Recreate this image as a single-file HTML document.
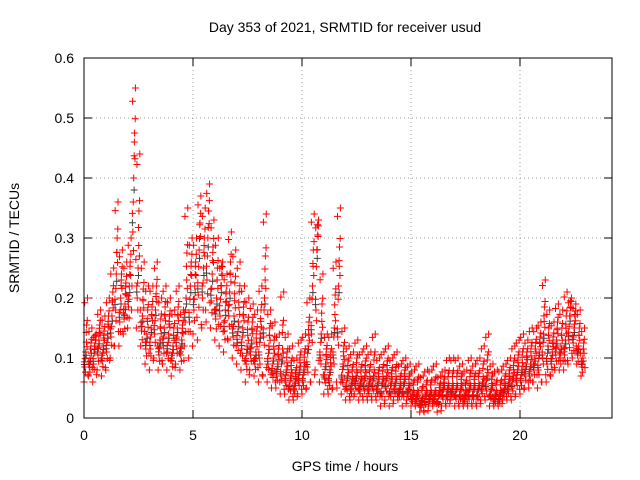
<!DOCTYPE html>
<html><head><meta charset="utf-8"><style>
body{margin:0;background:#fff}
svg{display:block;font-family:"Liberation Sans",sans-serif}
</style></head><body>
<svg id="chart" width="640" height="480" viewBox="0 0 640 480">
<rect width="640" height="480" fill="#fff"/>
<text x="345" y="32" font-size="14" text-anchor="middle">Day 353 of 2021, SRMTID for receiver usud</text>
<text x="0" y="0" font-size="14" text-anchor="middle" transform="translate(19,238) rotate(-90)">SRMTID / TECUs</text>
<text x="345" y="471" font-size="14" text-anchor="middle">GPS time / hours</text>
<g id="grid"></g>
<g id="ticks"></g>
<g id="gray"></g>
<g id="red"></g>
<rect x="84" y="58" width="528" height="360" fill="none" stroke="#000"/>
</svg>
<script>
const xTicks=[0,5,10,15,20];
const yTicks=[0,0.1,0.2,0.3,0.4,0.5,0.6];
const yTickLabels=["0","0.1","0.2","0.3","0.4","0.5","0.6"];
const binHours=0.2;
const lo=[.06,.07,.06,.08,.07,.08,.10,.12,.12,.14,.15,.22,.15,.12,.09,.08,.10,.08,.09,.08,.07,.09,.08,.12,.10,.14,.13,.15,.16,.15,.13,.12,.11,.13,.10,.09,.08,.06,.08,.07,.06,.07,.06,.05,.05,.04,.04,.03,.03,.04,.04,.05,.06,.08,.06,.04,.04,.05,.05,.04,.03,.03,.04,.03,.03,.03,.03,.03,.02,.03,.02,.03,.03,.02,.03,.02,.02,.01,.01,.02,.02,.01,.02,.02,.03,.02,.02,.02,.02,.02,.02,.03,.03,.02,.02,.02,.03,.03,.03,.04,.04,.05,.05,.06,.05,.06,.06,.07,.08,.08,.08,.09,.10,.09,.07];
const mid=[.11,.10,.12,.13,.12,.14,.17,.24,.20,.19,.22,.40,.25,.17,.14,.15,.18,.13,.15,.14,.12,.15,.13,.20,.22,.22,.28,.25,.30,.24,.20,.22,.18,.21,.17,.16,.15,.12,.13,.11,.14,.20,.12,.10,.09,.10,.08,.07,.06,.08,.08,.12,.22,.28,.14,.09,.08,.15,.22,.09,.07,.06,.07,.06,.07,.06,.07,.06,.06,.07,.06,.06,.05,.06,.05,.04,.04,.03,.04,.04,.04,.04,.05,.05,.05,.05,.05,.04,.05,.05,.05,.06,.07,.05,.04,.04,.05,.06,.07,.08,.08,.09,.09,.10,.11,.14,.12,.11,.13,.12,.13,.17,.15,.12,.10];
const hi=[.20,.15,.14,.18,.17,.20,.25,.36,.28,.26,.30,.55,.44,.26,.22,.22,.26,.20,.22,.20,.18,.22,.18,.35,.30,.30,.37,.35,.39,.33,.30,.26,.24,.31,.28,.26,.22,.20,.19,.18,.22,.34,.18,.16,.14,.21,.14,.12,.10,.13,.14,.20,.34,.33,.24,.14,.14,.26,.35,.15,.12,.11,.13,.11,.12,.11,.14,.10,.11,.12,.10,.11,.09,.10,.09,.08,.09,.07,.08,.08,.09,.07,.08,.10,.10,.10,.09,.08,.10,.09,.10,.12,.14,.09,.08,.08,.09,.10,.12,.13,.14,.13,.15,.15,.16,.23,.18,.16,.19,.18,.21,.20,.19,.18,.15];
const X0=84,X1=612,XMAX=528/21.8,Y0=418,Y1=58,YMAX=0.6;
const xs=v=>X0+v/XMAX*(X1-X0);
const ys=v=>Y0-v/YMAX*(Y0-Y1);
const NS="http://www.w3.org/2000/svg";
function mk(t,a,p){const e=document.createElementNS(NS,t);for(const k in a)e.setAttribute(k,a[k]);p.appendChild(e);return e;}
const grid=document.getElementById('grid'),ticks=document.getElementById('ticks');
xTicks.forEach(v=>{const x=xs(v);
 if(v>0){const g=mk('line',{x1:x,x2:x,y1:Y1,y2:Y0,stroke:'#a0a0a0','stroke-dasharray':'1,3'},grid);}
 mk('line',{x1:x,x2:x,y1:Y0,y2:Y0-8,stroke:'#000'},ticks);mk('line',{x1:x,x2:x,y1:Y1,y2:Y1+8,stroke:'#000'},ticks);
 const t=mk('text',{x:x,y:Y0+22,'font-size':14,'text-anchor':'middle'},ticks);t.textContent=v;
 });
yTicks.forEach((v,i)=>{const y=ys(v);
 if(i>0&&i<yTicks.length-1){const g=mk('line',{x1:X0,x2:X1,y1:y,y2:y,stroke:'#a0a0a0','stroke-dasharray':'1,3'},grid);}
 mk('line',{x1:X0,x2:X0+8,y1:y,y2:y,stroke:'#000'},ticks);mk('line',{x1:X1,x2:X1-8,y1:y,y2:y,stroke:'#000'},ticks);
 const t=mk('text',{x:X0-10,y:y+5,'font-size':14,'text-anchor':'end'},ticks);t.textContent=yTickLabels[i];
 });
function plus(g,h,v,c){const x=xs(h),y=ys(v);
 const p=mk('path',{d:`M${x-3.5},${y}h7M${x},${y-3.5}v7`,stroke:c,'stroke-width':1,fill:'none'},g);
 }
const gG=document.getElementById('gray'),gR=document.getElementById('red');
const offs=[0,0.04,0.08,0.12,0.16];
lo.forEach((l,i)=>{const t=i*binHours,m=mid[i],h=hi[i];
 plus(gG,t+0.1,m*0.95,'#404040');plus(gG,t+0.02,(l+m)/2*1.05,'#404040');
 const vals=[l,(l+m)/2,m,(m+h)/2,h,(l+m)/2*1.1,m*0.9,(m+h)/2*0.92,m*1.08,l*1.2,h*0.96,(l+m)/2*0.9,m*1.15,(m+h)/2*1.05];
 vals.forEach((v,k)=>plus(gR,t+offs[k%5]+(k>=5?0.02:0)+(k>=10?0.01:0),v,'#ff0000'));
});
</script>
</body></html>
